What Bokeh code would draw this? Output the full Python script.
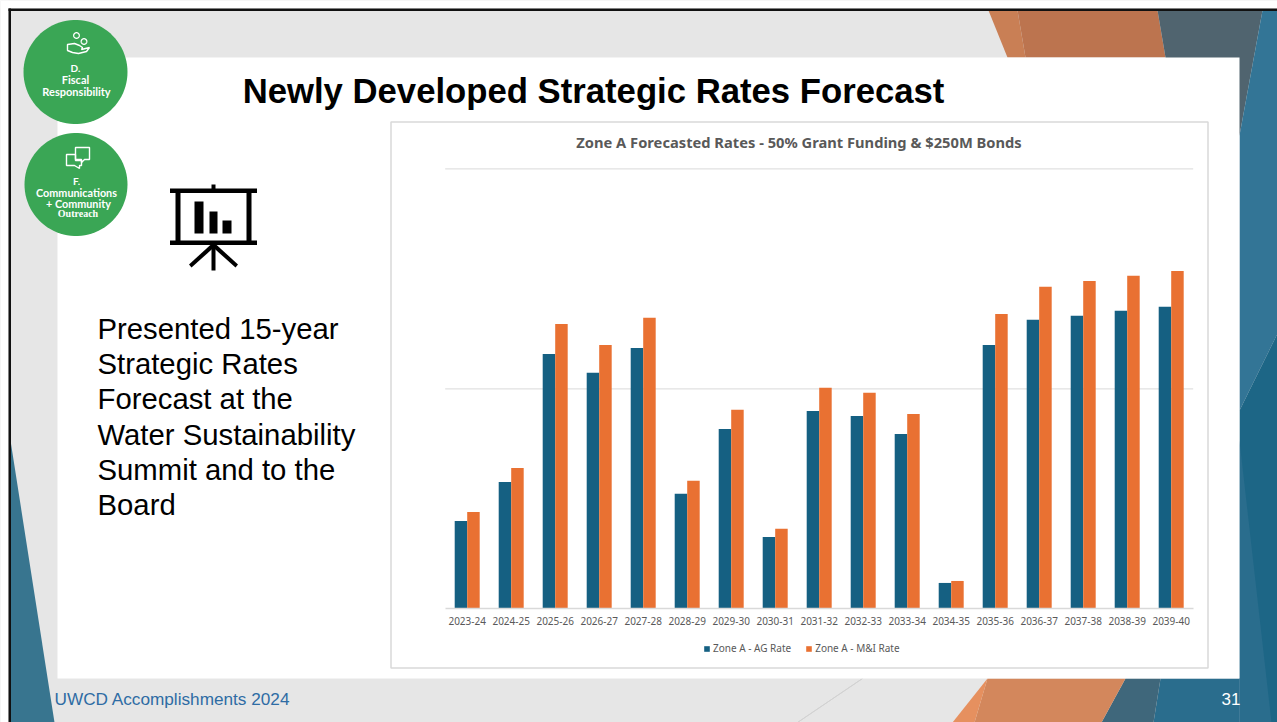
import numpy as np
from bokeh.embed import file_html
from bokeh.resources import INLINE
from bokeh.plotting import figure
from bokeh.models import (ColumnDataSource, Range1d, FixedTicker, Label, LinearAxis,
                          PolyAnnotation, Legend, LegendItem)

CATEGORIES = ["2023-24","2024-25","2025-26","2026-27","2027-28","2028-29","2029-30","2030-31",
              "2031-32","2032-33","2033-34","2034-35","2035-36","2036-37","2037-38","2038-39","2039-40"]
AG_RATE = [400,577,1159,1073,1186,523,818,327,900,877,795,118,1200,1314,1332,1355,1373]
MI_RATE = [441,641,1295,1200,1323,582,905,364,1005,982,886,127,1341,1464,1491,1514,1536]
GRID_TICKS = [1000, 2000]
SERIES_NAMES = ["Zone A - AG Rate", "Zone A - M&I Rate"]
CHART_TITLE = "Zone A Forecasted Rates - 50% Grant Funding & $250M Bonds"
SLIDE_TITLE = "Newly Developed Strategic Rates Forecast"
BODY_LINES = ["Presented 15-year", "Strategic Rates", "Forecast at the",
              "Water Sustainability", "Summit and to the", "Board"]
FOOTER = "UWCD Accomplishments 2024"
PAGE_NO = "31"

W, H = 1277, 722
BLUE, ORANGE = "#156082", "#e97132"
GRAY = "#595959"
# placement of the chart's scales inside the slide picture
CAT_X0, CAT_DX = 466.7, 44.0
BASE_Y, PX_PER_UNIT = 608.4, 0.22

idx = list(range(len(CATEGORIES)))
bw = 0.284
src = ColumnDataSource(dict(i=idx, ag=AG_RATE, mi=MI_RATE,
                            x_ag=[i-bw/2 for i in idx], x_mi=[i+bw/2 for i in idx]))
p = figure(width=W, height=H, output_backend="svg", toolbar_location=None,
           x_range=Range1d(-CAT_X0/CAT_DX, (W-CAT_X0)/CAT_DX),
           y_range=Range1d((BASE_Y-H)/PX_PER_UNIT, BASE_Y/PX_PER_UNIT),
           min_border=0, x_axis_type=None, y_axis_type=None,
           background_fill_color="#e6e6e6", border_fill_color="#e6e6e6", outline_line_color=None)

def poly(xs, ys, fill, line=None, lw=0):
    p.add_layout(PolyAnnotation(xs=list(xs), ys=list(ys), xs_units="canvas", ys_units="canvas",
                                fill_color=fill, fill_alpha=1 if fill else 0,
                                line_color=line, line_width=lw, level="image",
                                line_alpha=1 if line else 0, editable=False))

def rect(x0, y0, x1, y1, fill, line=None, lw=0):
    poly([x0,x1,x1,x0], [y0,y0,y1,y1], fill, line, lw)

def circle(cx, cy, r, fill, line=None, lw=0):
    t = np.linspace(0, 2*np.pi, 90, endpoint=False)
    poly(cx+r*np.cos(t), cy+r*np.sin(t), fill, line, lw)

def seg(pts, color, lw):
    xs = [a for a,_ in pts] + [a for a,_ in pts[::-1]]
    ys = [b for _,b in pts] + [b for _,b in pts[::-1]]
    poly(xs, ys, None, color, lw)

def label(x, y, text, font, size, color, bold=False, align="left"):
    p.add_layout(Label(x=x, y=y-1, x_units="canvas", y_units="canvas", text=text,
                       text_font=font, text_font_size=f"{size}px", text_color=color,
                       text_font_style="bold" if bold else "normal",
                       text_align=align, text_baseline="middle", level="image"))

# page edge and slide border
rect(0, 0, 1277, 8, "#ffffff")
rect(0, 0, 8, 722, "#ffffff")
# slide background shapes
poly([988,1017,1025,1007], [10,10,57,57], "#c97f55")
poly([1017,1157,1165,1025], [10,10,57,57], "#bc744f")
poly([1157,1262,1239,1165], [10,10,135,57], "#50646f")
poly([1262,1277,1277,1239,1239], [10,10,333,410,135], "#337596")
poly([1239,1277,1277,1239], [410,333,722,722], "#1d6686")
poly([1239,1271,1239], [440,722,722], "#2a6d8d")
poly([1160,1239,1239,1153], [678,678,722,722], "#2a6d8d")
poly([1125,1160,1153,1101], [678,678,722,722], "#3f677b")
poly([987,1125,1101,974], [678,678,722,722], "#d3875c")
poly([987,974,952], [678,722,722], "#e6905f")
seg([(862,678),(797,722)], "#d2d2d2", 1)
poly([10,54,10], [440,722,722], "#38758f")
rect(8, 8, 1277, 10.5, "#111111")
rect(8, 8, 10.5, 722, "#111111")
rect(57, 57, 1239, 678, "#ffffff")

# chart card
rect(390.5, 121.5, 1207.5, 667.5, "#ffffff", "#d9d9d9", 1.5)

# badges
circle(75, 71.5, 52, "#3aa655")
circle(75.5, 184, 51.5, "#3aa655")
W_ = "#ffffff"
# hand icon
circle(76, 35, 2.8, None, W_, 1.3)
circle(83.5, 41, 2.8, None, W_, 1.3)
poly([67,74,79,82,81,89,86,78,72,67], [44,43,45,47,49,47,51,53,52,50], None, W_, 1.4)
# speech icons
poly([75,89,89,84,81,81,75], [147,147,159,159,162,159,159], None, W_, 1.4)
poly([66,75,75,81,81,79,79,74,66], [154,154,160,160,165,165,168,165,165], None, W_, 1.4)
# projector icon
K = "#000000"
rect(169.5, 188, 256.5, 192.5, K)
rect(169.5, 240, 256.5, 244.5, K)
rect(211, 184, 215, 190, K)
rect(175, 190, 180, 242, K)
rect(246, 190, 251, 242, K)
rect(194, 201, 203, 233, K)
rect(209, 211, 217, 233, K)
rect(222, 220, 231, 233, K)
rect(211, 242, 215, 270, K)
poly([211.5,214.5,191,188.5], [243,246,267,264], K)
poly([214.5,211.5,235,237.5], [243,246,267,264], K)

# badge text
B = "Lato"
label(75, 68, "D.", B, 10, W_, True, "center")
label(75, 80, "Fiscal", B, 11, W_, True, "center")
label(76, 91.5, "Responsibility", B, 11, W_, True, "center")
label(76, 181, "F.", B, 10, W_, True, "center")
label(76, 192.5, "Communications", B, 10.8, W_, True, "center")
label(78, 204, "+ Community", B, 10.8, W_, True, "center")
label(77.5, 214, "Outreach", "Liberation Serif", 10, W_, True, "center")

# slide text
label(593, 91.5, SLIDE_TITLE, "Liberation Sans", 34.7, K, True, "center")
for y, line in zip([329, 364, 399, 435, 470, 505], BODY_LINES):
    label(97, y, line, "Liberation Sans", 29.3, K)
label(54, 699, FOOTER, "Liberation Sans", 17.2, "#2e6ca4")
label(1240, 699, PAGE_NO, "Liberation Sans", 17, "#ffffff", False, "right")
label(798.5, 142, CHART_TITLE, "Noto Sans", 14.7, GRAY, True, "center")

# chart
p.segment(x0=[-0.5]*len(GRID_TICKS), x1=[16.5]*len(GRID_TICKS), y0=GRID_TICKS, y1=GRID_TICKS,
          line_color="#d9d9d9", line_width=1, level="underlay")
r1 = p.vbar(x="x_ag", top="ag", width=bw, bottom=0, source=src, fill_color=BLUE, line_color=None)
r2 = p.vbar(x="x_mi", top="mi", width=bw, bottom=0, source=src, fill_color=ORANGE, line_color=None)

ax = LinearAxis(ticker=FixedTicker(ticks=idx), major_label_overrides=dict(zip(idx, CATEGORIES)),
                fixed_location=0, bounds=(-0.5, 16.5),
                axis_line_color="#d9d9d9", axis_line_width=1.5,
                major_tick_line_color=None, minor_tick_line_color=None,
                major_label_text_font="Noto Sans", major_label_text_font_size="10px",
                major_label_text_color=GRAY, major_label_standoff=2)
p.add_layout(ax, "below")

legend = Legend(items=[LegendItem(label=SERIES_NAMES[0], renderers=[r1]),
                       LegendItem(label=SERIES_NAMES[1], renderers=[r2])],
                orientation="horizontal", location=(703, H-655),
                background_fill_alpha=0, border_line_color=None,
                glyph_width=7, glyph_height=7, label_standoff=3, spacing=14,
                padding=0, margin=0, label_text_font="Noto Sans", label_text_font_size="10px",
                label_text_color=GRAY)
p.add_layout(legend, "center")

open("out.html", "w").write(file_html(p, INLINE))
